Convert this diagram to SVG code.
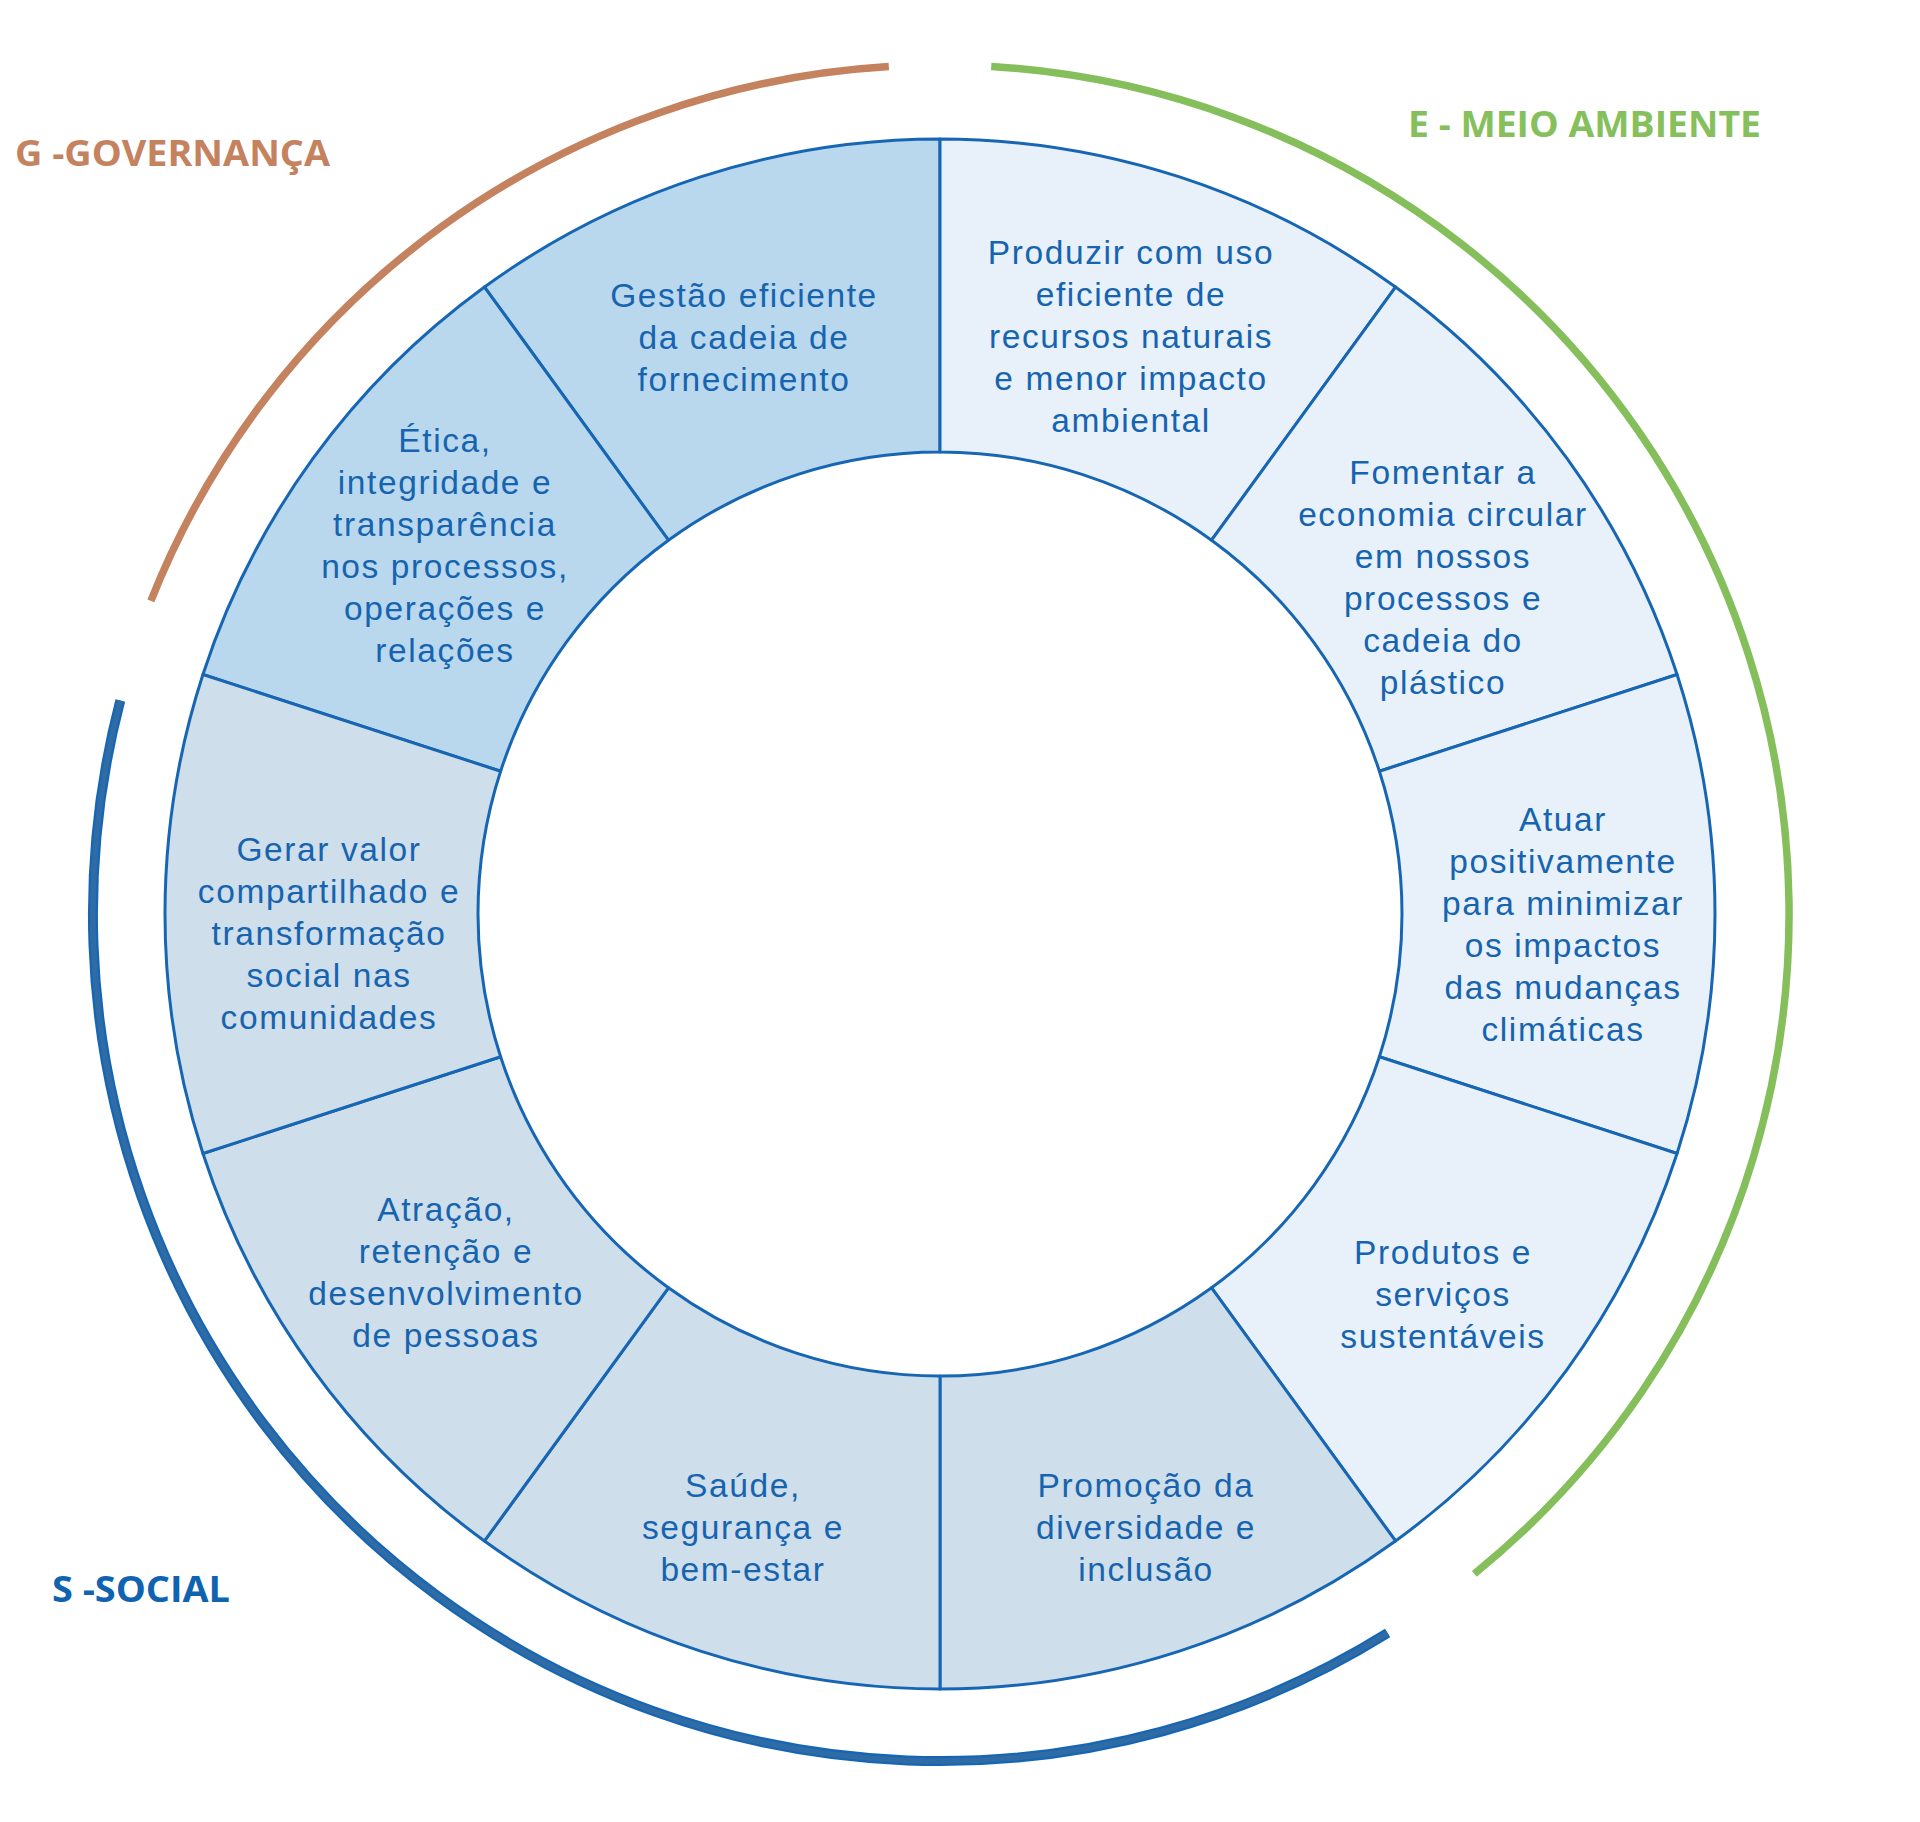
<svg xmlns="http://www.w3.org/2000/svg" width="1920" height="1822" viewBox="0 0 1920 1822">
<style>
.seg{stroke:#1766b3;stroke-width:3;stroke-linejoin:round}
.g{fill:#b9d8ee}.e{fill:#e8f1f9}.s{fill:#cedeea}
.t{font-family:"Liberation Sans",Arial,sans-serif;font-size:33.5px;letter-spacing:1.6px;fill:#1664b0;text-anchor:middle}
.h{font-family:"Open Sans","Liberation Sans",sans-serif;font-weight:bold;font-size:35px}
.arc{fill:none}
</style>
<rect width="1920" height="1822" fill="#fff"/>
<g id="arcs">
<path class="arc" d="M150.9,600.8 A849,849 0 0 1 888.8,66.5" stroke="#c4825f" stroke-width="7.5"/>
<path class="arc" d="M991.2,66.5 A849,849 0 0 1 1474.3,1573.8" stroke="#85bf5b" stroke-width="7.5"/>
<path class="arc" d="M1387.6,1633.1 A847,847 0 0 1 120.3,700.5" stroke="#1766b4" stroke-width="10"/>
<path class="arc" d="M1387.6,1633.1 A847,847 0 0 1 120.3,700.5" stroke="#2f6ca6" stroke-width="5.5"/>
</g>
<g id="seg-gestao"><path class="seg g" d="M484.47,287.01 A775,775 0 0 1 940,139 L940,452 A462,462 0 0 0 668.44,540.23 Z"/>
<text class="t" y="307"><tspan x="744">Gestão eficiente</tspan><tspan x="744" dy="42">da cadeia de</tspan><tspan x="744" dy="42">fornecimento</tspan></text></g>
<g id="seg-etica"><path class="seg g" d="M202.93,674.51 A775,775 0 0 1 484.47,287.01 L668.44,540.23 A462,462 0 0 0 500.61,771.23 Z"/>
<text class="t" y="452"><tspan x="445">Ética,</tspan><tspan x="445" dy="42">integridade e</tspan><tspan x="445" dy="42">transparência</tspan><tspan x="445" dy="42">nos processos,</tspan><tspan x="445" dy="42">operações e</tspan><tspan x="445" dy="42">relações</tspan></text></g>
<g id="seg-produzir"><path class="seg e" d="M940,139 A775,775 0 0 1 1395.53,287.01 L1211.56,540.23 A462,462 0 0 0 940,452 Z"/>
<text class="t" y="264"><tspan x="1131">Produzir com uso</tspan><tspan x="1131" dy="42">eficiente de</tspan><tspan x="1131" dy="42">recursos naturais</tspan><tspan x="1131" dy="42">e menor impacto</tspan><tspan x="1131" dy="42">ambiental</tspan></text></g>
<g id="seg-fomentar"><path class="seg e" d="M1395.53,287.01 A775,775 0 0 1 1677.07,674.51 L1379.39,771.23 A462,462 0 0 0 1211.56,540.23 Z"/>
<text class="t" y="484"><tspan x="1443">Fomentar a</tspan><tspan x="1443" dy="42">economia circular</tspan><tspan x="1443" dy="42">em nossos</tspan><tspan x="1443" dy="42">processos e</tspan><tspan x="1443" dy="42">cadeia do</tspan><tspan x="1443" dy="42">plástico</tspan></text></g>
<g id="seg-atuar"><path class="seg e" d="M1677.07,674.51 A775,775 0 0 1 1677.07,1153.49 L1379.39,1056.77 A462,462 0 0 0 1379.39,771.23 Z"/>
<text class="t" y="831"><tspan x="1563">Atuar</tspan><tspan x="1563" dy="42">positivamente</tspan><tspan x="1563" dy="42">para minimizar</tspan><tspan x="1563" dy="42">os impactos</tspan><tspan x="1563" dy="42">das mudanças</tspan><tspan x="1563" dy="42">climáticas</tspan></text></g>
<g id="seg-produtos"><path class="seg e" d="M1677.07,1153.49 A775,775 0 0 1 1395.53,1540.99 L1211.56,1287.77 A462,462 0 0 0 1379.39,1056.77 Z"/>
<text class="t" y="1264"><tspan x="1443">Produtos e</tspan><tspan x="1443" dy="42">serviços</tspan><tspan x="1443" dy="42">sustentáveis</tspan></text></g>
<g id="seg-promocao"><path class="seg s" d="M1395.53,1540.99 A775,775 0 0 1 940,1689 L940,1376 A462,462 0 0 0 1211.56,1287.77 Z"/>
<text class="t" y="1497"><tspan x="1146">Promoção da</tspan><tspan x="1146" dy="42">diversidade e</tspan><tspan x="1146" dy="42">inclusão</tspan></text></g>
<g id="seg-saude"><path class="seg s" d="M940,1689 A775,775 0 0 1 484.47,1540.99 L668.44,1287.77 A462,462 0 0 0 940,1376 Z"/>
<text class="t" y="1497"><tspan x="743">Saúde,</tspan><tspan x="743" dy="42">segurança e</tspan><tspan x="743" dy="42">bem-estar</tspan></text></g>
<g id="seg-atracao"><path class="seg s" d="M484.47,1540.99 A775,775 0 0 1 202.93,1153.49 L500.61,1056.77 A462,462 0 0 0 668.44,1287.77 Z"/>
<text class="t" y="1221"><tspan x="446">Atração,</tspan><tspan x="446" dy="42">retenção e</tspan><tspan x="446" dy="42">desenvolvimento</tspan><tspan x="446" dy="42">de pessoas</tspan></text></g>
<g id="seg-gerar"><path class="seg s" d="M202.93,1153.49 A775,775 0 0 1 202.93,674.51 L500.61,771.23 A462,462 0 0 0 500.61,1056.77 Z"/>
<text class="t" y="861"><tspan x="329">Gerar valor</tspan><tspan x="329" dy="42">compartilhado e</tspan><tspan x="329" dy="42">transformação</tspan><tspan x="329" dy="42">social nas</tspan><tspan x="329" dy="42">comunidades</tspan></text></g>
<g id="labels">
<text class="h" x="15" y="166" fill="#c4825f" textLength="315" lengthAdjust="spacingAndGlyphs">G -GOVERNANÇA</text>
<text class="h" x="1408" y="137" fill="#86c05c" textLength="353" lengthAdjust="spacingAndGlyphs">E - MEIO AMBIENTE</text>
<text class="h" x="52" y="1602" fill="#0f63b1" font-size="33" textLength="178" lengthAdjust="spacingAndGlyphs">S -SOCIAL</text>
</g>
</svg>
